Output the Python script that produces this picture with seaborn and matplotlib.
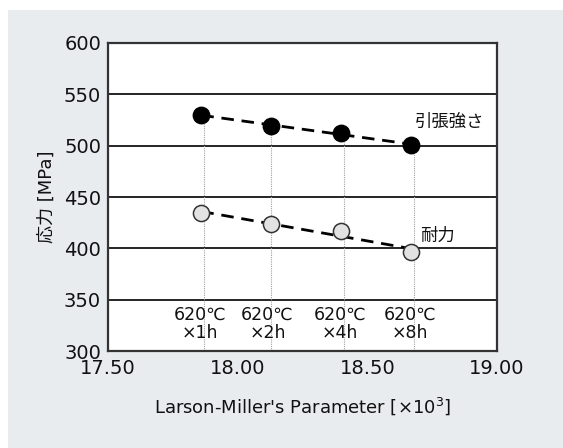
import numpy as np
import matplotlib
matplotlib.use("Agg")
import matplotlib.pyplot as plt
from matplotlib.patches import Rectangle
import seaborn as sns

# Larson-Miller parameter (x10^3) for each tempering condition
lmp = [17.86, 18.13, 18.40, 18.67]
guide_x = [17.87, 18.13, 18.41, 18.68]
conditions = ["620℃\n×1h", "620℃\n×2h", "620℃\n×4h", "620℃\n×8h"]

# Stress values [MPa]
tensile_strength = [530, 519, 512, 501]
proof_stress = [434, 424, 417, 396]

xticks = [17.50, 18.00, 18.50, 19.00]
yticks = [300, 350, 400, 450, 500, 550, 600]

sns.set_theme(style="white")
plt.rcParams["font.family"] = ["DejaVu Sans", "Noto Sans CJK JP"]
plt.rcParams["text.color"] = "#111111"
plt.rcParams["axes.labelcolor"] = "#111111"

fig = plt.figure(figsize=(5.63, 4.48), dpi=100)
fig.patch.set_facecolor("white")
bg = Rectangle((8 / 563, 0), 1, 1 - 10 / 448, transform=fig.transFigure,
               facecolor="#e9ecef", edgecolor="none", zorder=-10)
fig.add_artist(bg)

ax = fig.add_axes([108 / 563, 1 - 351 / 448, 389 / 563, 308 / 448])
ax.set_zorder(1)
ax.set_facecolor("white")

ax.set_xlim(17.5, 19.0)
ax.set_ylim(300, 600)

# horizontal grid lines
for y in yticks[1:-1]:
    ax.axhline(y, color="black", lw=1.2, zorder=1)

# dotted guide lines from each point down to the axis
for gx, ts in zip(guide_x, tensile_strength):
    ax.plot([gx, gx], [300, ts], color="#a0a0a0", lw=0.8, ls=(0, (1, 1)), zorder=1)

# dashed trend lines from linear fits
x = np.array(lmp)
for ys in (tensile_strength, proof_stress):
    k, b = np.polyfit(x, ys, 1)
    xs = np.array([x[0], x[-1]])
    ax.plot(xs, k * xs + b, color="black", lw=2.0, ls=(0, (4.5, 2.8)), zorder=2)

sns.scatterplot(x=lmp, y=tensile_strength, ax=ax, s=140, color="black",
                edgecolor="black", linewidth=1, zorder=3)
sns.scatterplot(x=lmp, y=proof_stress, ax=ax, s=135, color="#e2e2e2",
                edgecolor="#333333", linewidth=1.1, zorder=3)

for gx, txt in zip(guide_x, conditions):
    ax.text(gx - 0.015, 344, txt, ha="center", va="top", fontsize=12.5,
            linespacing=1.0, zorder=4)

ax.text(18.684, 523, "引張強さ", fontsize=12.5, ha="left", va="center")
ax.text(18.703, 412, "耐力", fontsize=12.5, ha="left", va="center")

ax.set_xticks(xticks)
ax.set_xticklabels([f"{v:.2f}" for v in xticks], fontsize=14)
ax.set_yticks(yticks)
ax.set_yticklabels([str(v) for v in yticks], fontsize=14)
ax.tick_params(axis="x", direction="in", length=6, width=1.5, pad=6,
               colors="#333333", labelcolor="#111111")
ax.tick_params(axis="y", direction="out", length=0, pad=5, labelcolor="#111111")

for s in ax.spines.values():
    s.set_color("#333333")
    s.set_linewidth(1.6)

ax.set_xlabel("Larson-Miller's Parameter [×10$^3$]", fontsize=13, labelpad=12)
ax.set_ylabel("応力 [MPa]", fontsize=13, labelpad=6)

fig.savefig("out.png", dpi=100)
